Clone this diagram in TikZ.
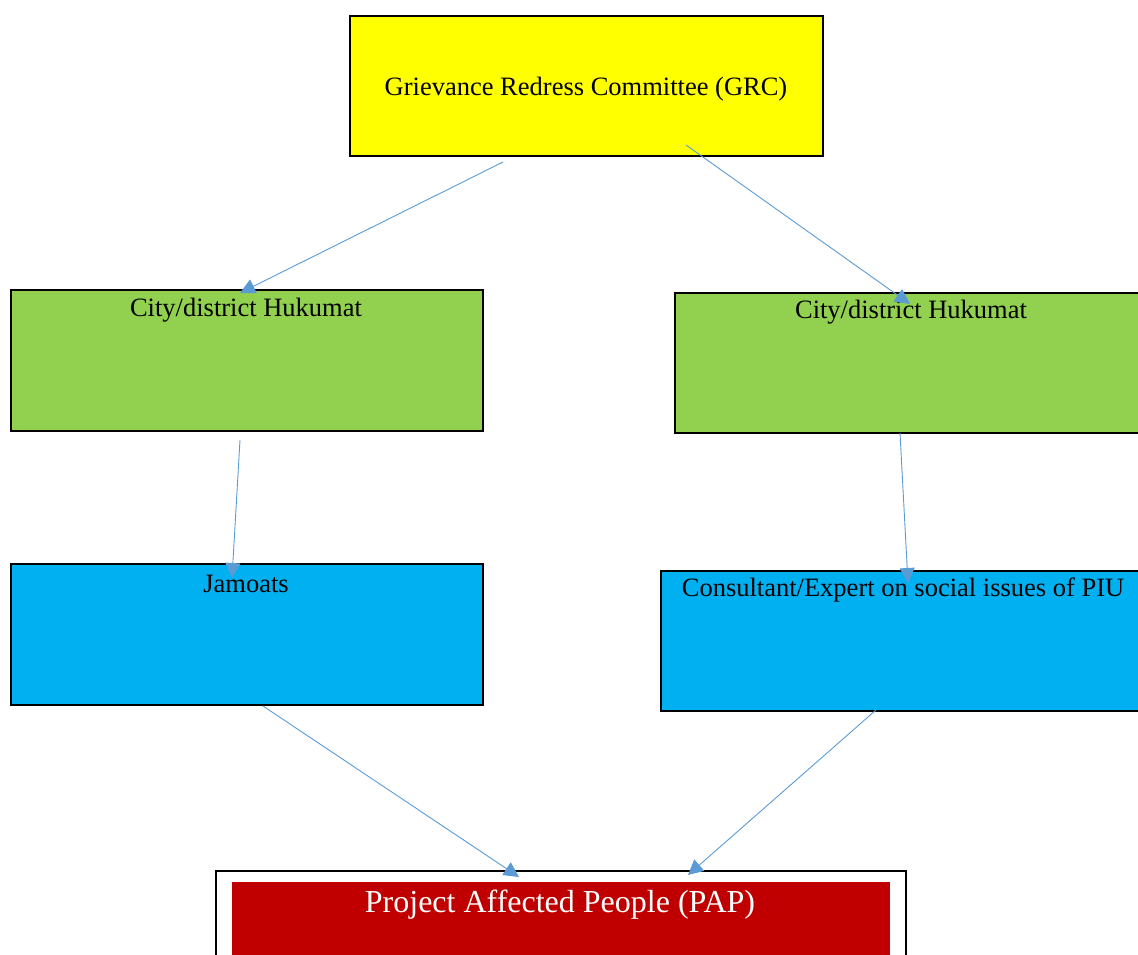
\documentclass[tikz,border=0pt]{standalone}
\usepackage{fontspec}
\setmainfont{Liberation Serif}
\usetikzlibrary{arrows.meta}
\definecolor{grcyellow}{HTML}{FFFF00}
\definecolor{hukgreen}{HTML}{92D050}
\definecolor{jamblue}{HTML}{00B0F0}
\definecolor{papred}{HTML}{C00000}
\definecolor{arrowblue}{HTML}{5B9BD5}
\tikzset{
  box/.style={draw=black, line width=1.2pt, anchor=north west, inner sep=0pt, outer sep=0pt},
  lbl/.style={font=\fontsize{26.5}{30}\selectfont, text=black, inner sep=0pt},
  conn/.style={draw=arrowblue, line width=0.9pt, -{Triangle[length=15pt,width=15pt]}}
}
\begin{document}
\begin{tikzpicture}[x=1pt,y=-1pt]
\useasboundingbox (0,0) rectangle (1138,955);
\clip (0,0) rectangle (1138,955);
% boxes
\node[box, fill=grcyellow, minimum width=473pt, minimum height=140pt] (grc) at (350,16) {};
\node[box, fill=hukgreen, minimum width=472pt, minimum height=141pt] (hukL) at (11,290) {};
\node[box, fill=hukgreen, minimum width=480pt, minimum height=140pt] (hukR) at (675,293) {};
\node[box, fill=jamblue, minimum width=472pt, minimum height=141pt] (jam) at (11,564) {};
\node[box, fill=jamblue, minimum width=490pt, minimum height=140pt] (cons) at (661,571) {};
\node[box, fill=white, minimum width=690pt, minimum height=100pt] (papouter) at (216,871) {};
\node[anchor=north west, fill=papred, inner sep=0pt, minimum width=658pt, minimum height=90pt] (pap) at (232,882) {};
% labels
\node[lbl] (grct) at (586,89) {Grievance Redress Committee (GRC)};
\node[lbl] (hukLt) at (246,310) {City/district Hukumat};
\node[lbl] (hukRt) at (911,312) {City/district Hukumat};
\node[lbl] (jamt) at (246,584) {Jamoats};
\node[lbl] (const) at (903,590) {Consultant/Expert on social issues of PIU};
\node[lbl, font=\fontsize{32}{36}\selectfont, text=white] (papt) at (560,905) {Project Affected People (PAP)};
% connector endpoints
\coordinate (a1) at (503,162);
\coordinate (a2) at (240,293);
\coordinate (b1) at (686,145);
\coordinate (b2) at (910,304);
\coordinate (c1) at (240,440);
\coordinate (c2) at (232,578);
\coordinate (d1) at (900,433);
\coordinate (d2) at (908,583);
\coordinate (e1) at (263,706);
\coordinate (e2) at (519,877);
\coordinate (f1) at (876,710);
\coordinate (f2) at (688,875);
\draw[conn] (a1) -- (a2);
\draw[conn] (b1) -- (b2);
\draw[conn] (c1) -- (c2);
\draw[conn] (d1) -- (d2);
\draw[conn] (e1) -- (e2);
\draw[conn] (f1) -- (f2);
\end{tikzpicture}
\end{document}
